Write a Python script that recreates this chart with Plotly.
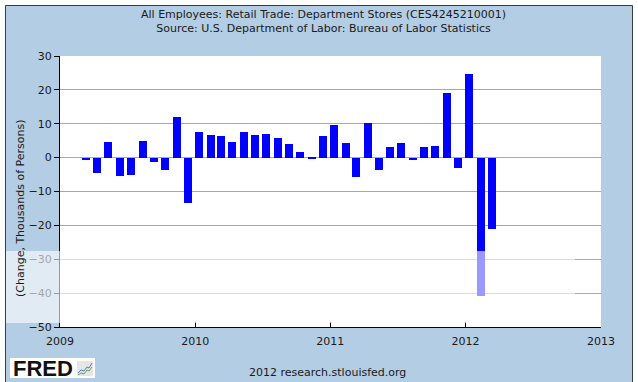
import plotly.graph_objects as go
import pandas as pd

# ---- data (monthly change, thousands of persons) ----
months = pd.date_range("2009-03-01", "2012-03-01", freq="MS").strftime("%Y-%m-%d").tolist()
changes = [-0.7, -4.5, 4.5, -5.4, -5.1, 4.8, -1.3, -3.6, 11.9, -13.3,
           7.7, 6.6, 6.3, 4.5, 7.5, 6.6, 6.9, 5.7, 3.9, 1.6, -0.5, 6.3,
           9.5, 4.2, -5.8, 10.1, -3.7, 3.0, 4.2, -0.8, 3.0, 3.3, 19.2, -3.1,
           24.8, -40.7, -21.2]
year_ticks = ["2009-01-01", "2010-01-01", "2011-01-01", "2012-01-01", "2013-01-01"]
year_labels = ["2009", "2010", "2011", "2012", "2013"]
title_lines = ["All Employees: Retail Trade: Department Stores (CES4245210001)",
               "Source: U.S. Department of Labor: Bureau of Labor Statistics"]
y_title = "(Change, Thousands of Persons)"
footer = "2012 research.stlouisfed.org"

W, H = 638, 382
L, R, T, B = 60, 37, 56, 55
PW, PH = W - L - R, H - T - B
BLUE_BG = "#B3CDE4"
FONT = "DejaVu Sans"


def px(xp):
    return (xp - L) / PW


def py(yp):
    return (H - B - yp) / PH


DAY_MS = 86400000

fig = go.Figure()
fig.add_trace(go.Bar(
    x=months, y=changes,
    width=21.6 * DAY_MS, offset=0,
    marker=dict(color="#0000FF", line=dict(width=0)),
    hoverinfo="x+y",
))

shapes = []
# white margins outside FRED frame
shapes.append(dict(type="rect", xref="paper", yref="paper", layer="above",
                   x0=px(-5), x1=px(5), y0=py(H + 5), y1=py(-5),
                   fillcolor="white", line=dict(width=0)))
shapes.append(dict(type="rect", xref="paper", yref="paper", layer="above",
                   x0=px(-5), x1=px(W + 5), y0=py(5), y1=py(-5),
                   fillcolor="white", line=dict(width=0)))
shapes.append(dict(type="rect", xref="paper", yref="paper", layer="above",
                   x0=px(633), x1=px(W + 5), y0=py(H + 5), y1=py(-5),
                   fillcolor="white", line=dict(width=0)))
# frame border
shapes.append(dict(type="rect", xref="paper", yref="paper", layer="above",
                   x0=px(5.5), x1=px(632.5), y0=py(H + 20), y1=py(5.5),
                   fillcolor="rgba(0,0,0,0)", line=dict(color="#3c3c3c", width=1)))
# semi-transparent white overlay band (as in the reference image)
shapes.append(dict(type="rect", xref="paper", yref="paper", layer="above",
                   x0=px(6), x1=px(575), y0=py(323), y1=py(251),
                   fillcolor="white", opacity=0.6, line=dict(width=0)))
# FRED logo box
shapes.append(dict(type="rect", xref="paper", yref="paper", layer="above",
                   x0=px(10), x1=px(95), y0=py(378), y1=py(358),
                   fillcolor="white", line=dict(width=0)))
shapes.append(dict(type="rect", xref="paper", yref="paper", layer="above",
                   x0=px(77), x1=px(93), y0=py(376), y1=py(361),
                   fillcolor="#E6E6E6", line=dict(width=0)))


def path(points):
    s = ""
    for i, (a, b) in enumerate(points):
        s += ("M" if i == 0 else "L") + f"{px(a):.5f},{py(b):.5f} "
    return s.strip()


shapes.append(dict(type="path", xref="paper", yref="paper", layer="above",
                   path=path([(78, 373), (81, 370), (84, 371), (87, 367), (89, 368), (92, 363)]),
                   line=dict(color="#4A7FC0", width=1)))
shapes.append(dict(type="path", xref="paper", yref="paper", layer="above",
                   path=path([(78, 375), (81, 373), (84, 374), (87, 370), (89, 371), (92, 367)]),
                   line=dict(color="#6BA34A", width=1)))

annotations = [
    dict(text="<br>".join(title_lines), xref="paper", yref="paper",
         x=px(323), y=py(22), xanchor="center", yanchor="middle", showarrow=False,
         font=dict(family=FONT, size=11, color="#1a1a1a")),
    dict(text=y_title, xref="paper", yref="paper", textangle=-90,
         x=px(20), y=py(208), xanchor="center", yanchor="middle", showarrow=False,
         font=dict(family=FONT, size=11, color="#1a1a1a")),
    dict(text=footer, xref="paper", yref="paper",
         x=px(327), y=py(372), xanchor="center", yanchor="middle", showarrow=False,
         font=dict(family=FONT, size=11, color="#1a1a1a")),
    dict(text="<b>FRED</b>", xref="paper", yref="paper",
         x=px(11), y=py(368.5), xanchor="left", yanchor="middle", showarrow=False,
         font=dict(family="Liberation Sans", size=22, color="#111111")),
]

fig.update_layout(
    width=W, height=H,
    margin=dict(l=L, r=R, t=T, b=B, pad=0),
    paper_bgcolor=BLUE_BG, plot_bgcolor="white",
    showlegend=False,
    bargap=0,
    shapes=shapes, annotations=annotations,
    xaxis=dict(type="date", range=["2009-01-01", "2013-01-01"],
               tickvals=year_ticks, ticktext=year_labels,
               ticks="inside", ticklen=5, tickcolor="black", tickwidth=1,
               ticklabelstandoff=4,
               showline=True, linecolor="black", linewidth=1,
               showgrid=False, zeroline=False,
               tickfont=dict(family=FONT, size=11, color="#1a1a1a")),
    yaxis=dict(range=[-50, 30], tick0=0, dtick=10,
               ticks="outside", ticklen=5, tickcolor="black", tickwidth=1,
               showline=True, linecolor="black", linewidth=1,
               showgrid=True, gridcolor="#A8A8A8", gridwidth=1, zeroline=False,
               tickfont=dict(family=FONT, size=11, color="#1a1a1a")),
)

fig.write_html("out.html", config={"displayModeBar": False},
               post_script="document.body.style.margin='0';document.body.style.overflow='hidden';")
